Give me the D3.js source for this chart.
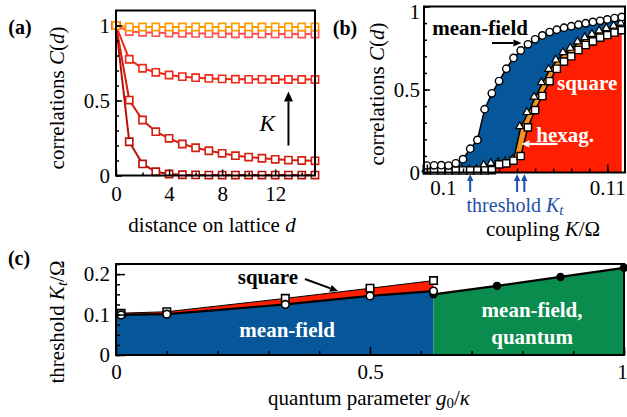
<!DOCTYPE html>
<html>
<head>
<meta charset="utf-8">
<script src="https://cdn.jsdelivr.net/npm/d3@7"></script>
<style>
body { margin: 0; background: #fff; }
text { font-family: "Liberation Serif", "Times New Roman", serif; }
</style>
</head>
<body>
<div id="chart"></div>
<script>
// ---- panel (a): correlations vs distance, several couplings K
const distances = [0, 1, 2, 3, 4, 5, 6, 7, 8, 9, 10, 11, 12, 13, 14, 15];
const corrK1 = [1, 0.225, 0.077, 0.025, 0.01, 0.005, 0.004, 0.003, 0.003, 0.003, 0.003, 0.003, 0.003, 0.003, 0.003, 0.003];
const corrK2 = [1, 0.503, 0.37, 0.292, 0.248, 0.21, 0.185, 0.165, 0.148, 0.132, 0.123, 0.115, 0.108, 0.103, 0.1, 0.098];
const corrK3 = [1, 0.775, 0.715, 0.688, 0.67, 0.659, 0.652, 0.647, 0.644, 0.642, 0.641, 0.641, 0.64, 0.64, 0.64, 0.64];
const corrK4 = [1, 0.96, 0.955, 0.952, 0.95, 0.948, 0.947, 0.946, 0.946, 0.945, 0.945, 0.944, 0.944, 0.944, 0.943, 0.943];
const corrK5 = [1, 0.99, 0.99, 0.99, 0.99, 0.99, 0.99, 0.99, 0.99, 0.99, 0.99, 0.99, 0.99, 0.99, 0.99, 0.99];
const corrColors = ["#b81008", "#d41e10", "#f02818", "#ff5050", "#ff9a00"];

// ---- panel (b): correlations vs coupling K/Omega
const couplingK = [0.1, 0.1004, 0.1008, 0.1012, 0.1016, 0.102, 0.1024, 0.1028, 0.1032, 0.1036,
  0.104, 0.1044, 0.1048, 0.1052, 0.1056, 0.106, 0.1064, 0.1068, 0.1072, 0.1076,
  0.108, 0.1084, 0.1088, 0.1092, 0.1096, 0.11, 0.1104, 0.1108];
const corrMeanField = [0.042, 0.043, 0.044, 0.042, 0.055, 0.08, 0.143, 0.196, 0.381, 0.477,
  0.551, 0.625, 0.69, 0.735, 0.772, 0.802, 0.826, 0.846, 0.86, 0.872,
  0.881, 0.89, 0.899, 0.907, 0.914, 0.922, 0.93, 0.937];
const corrHexag = [0.012, 0.012, 0.012, 0.012, 0.012, 0.012, 0.012, 0.014, 0.04, 0.05,
  0.055, 0.06, 0.075, 0.272, 0.357, 0.45, 0.537, 0.617, 0.673, 0.718,
  0.744, 0.782, 0.808, 0.828, 0.848, 0.863, 0.878, 0.895];
const corrSquare = [0.012, 0.012, 0.012, 0.012, 0.012, 0.012, 0.012, 0.012, 0.012, 0.014,
  0.049, 0.055, 0.071, 0.099, 0.272, 0.376, 0.461, 0.55, 0.625, 0.668,
  0.7, 0.738, 0.768, 0.79, 0.812, 0.828, 0.843, 0.858];
const thresholdsK = [0.1024, 0.105, 0.1054];

// ---- panel (c): threshold vs quantum parameter
const quantumG = [0.01, 0.1, 0.3333, 0.5, 0.625];
const thresholdSquare = [0.103, 0.107, 0.14, 0.165, 0.184];
const thresholdMeanField = [0.099, 0.101, 0.125, 0.146, 0.158];
const quantumGq = [0.625, 0.75, 0.875, 1];
const thresholdQuantum = [0.15, 0.171, 0.193, 0.2156];

const blue = "#05579a", red = "#ff1e00", orange = "#f7931e", green = "#0a8c4e", tblue = "#1f4fa8";
const fs = 21;

const svg = d3.select("#chart").append("svg").attr("width", 627).attr("height", 417);

function frame(x, y) {
    svg.append("rect")
        .attr("x", x.range()[0]).attr("y", y.range()[1])
        .attr("width", x.range()[1] - x.range()[0])
        .attr("height", y.range()[0] - y.range()[1])
        .attr("fill", "none").attr("stroke", "#000").attr("stroke-width", 2);
}

function ticks(axis, tx, ty, values, size, pad, labels) {
    let g = svg.append("g").attr("transform", "translate(" + tx + "," + ty + ")")
        .call(axis.tickValues(values).tickSize(-size).tickPadding(pad)
            .tickFormat(labels ? d3.format("~g") : ""));
    g.select(".domain").remove();
    g.selectAll("line").attr("stroke", "#000").attr("stroke-width", 1.5);
    g.selectAll("text").attr("fill", "#000").style("font-size", fs + "px")
        .style("font-family", '"Liberation Serif", serif');
    return g;
}

function arrow(x1, y1, x2, y2, color, w, head) {
    let a = Math.atan2(y2 - y1, x2 - x1);
    let bx = x2 - head * Math.cos(a), by = y2 - head * Math.sin(a);
    svg.append("line").attr("x1", x1).attr("y1", y1).attr("x2", bx).attr("y2", by)
        .attr("stroke", color).attr("stroke-width", w);
    let px = -Math.sin(a) * head * 0.45, py = Math.cos(a) * head * 0.45;
    svg.append("path")
        .attr("d", "M" + x2 + "," + y2 + "L" + (bx + px) + "," + (by + py) + "L" + (bx - px) + "," + (by - py) + "Z")
        .attr("fill", color);
}

function label(x, y, parts, opts) {
    opts = opts || {};
    let t = svg.append("text")
        .attr("transform", "translate(" + x + "," + y + ")" + (opts.rotate ? " rotate(-90)" : ""))
        .attr("text-anchor", "middle").attr("dominant-baseline", "central")
        .style("font-size", (opts.size || fs) + "px")
        .attr("fill", opts.color || "#000")
        .attr("font-weight", opts.bold ? "bold" : "normal");
    parts.forEach(p => {
        if (typeof p === "string") { t.append("tspan").text(p); return; }
        let s = t.append("tspan").text(p.t);
        if (p.i) s.attr("font-style", "italic");
        if (p.dy) s.attr("dy", p.dy);
        if (p.size) s.style("font-size", p.size + "px");
    });
    return t;
}

// ================= panel (a) =================
const xa = d3.scaleLinear().domain([0, 15]).range([116, 315]);
const ya = d3.scaleLinear().domain([0, 1.1]).range([175.5, 10.5]);
const aSeries = [corrK1, corrK2, corrK3, corrK4, corrK5];

aSeries.forEach((vals, k) => {
    let pts = distances.map((d, i) => [d, vals[i]]);
    svg.append("path").datum(pts)
        .attr("d", d3.line().x(d => xa(d[0])).y(d => ya(d[1])))
        .attr("fill", "none").attr("stroke", corrColors[k]).attr("stroke-width", 2);
    svg.append("g").selectAll("path").data(pts).join("path")
        .attr("transform", d => "translate(" + xa(d[0]) + "," + ya(d[1]) + ")")
        .attr("d", d3.symbol(d3.symbolSquare, 52))
        .attr("fill", "#fff").attr("stroke", corrColors[k]).attr("stroke-width", 1.6);
});
frame(xa, ya);
ticks(d3.axisLeft(ya), 116, 0, d3.range(0, 1.01, 0.1), 3, 6, false);
ticks(d3.axisLeft(ya), 116, 0, [0, 0.5, 1], 6, 6, true);
ticks(d3.axisBottom(xa), 0, 175.5, [2, 6, 10, 14], 3, 11, false);
ticks(d3.axisBottom(xa), 0, 175.5, [0, 4, 8, 12], 6, 11, true);

arrow(xa(13), ya(0.2), xa(13), ya(0.56), "#000", 2, 10);
label(xa(11.4), ya(0.35), [{ t: "K", i: true }], { size: 23 });
label(57, 98, ["correlations ", { t: "C", i: true }, "(", { t: "d", i: true }, ")"], { rotate: true });
label(212, 225, ["distance on lattice ", { t: "d", i: true }]);
label(20, 27, ["(a)"], { bold: true, size: 20 });

// ================= panel (b) =================
const xb = d3.scaleLinear().domain([0.09984, 0.11098]).range([424, 625]);
const yb = d3.scaleLinear().domain([0, 1]).range([172.5, 6.5]);
const bPts = couplingK.map((k, i) => ({ k: k, mf: corrMeanField[i], hx: corrHexag[i], sq: corrSquare[i], i: i }));

svg.append("path").datum(bPts)
    .attr("d", d3.area().defined(d => d.i >= 4).x(d => xb(d.k)).y0(d => yb(d.hx)).y1(d => yb(d.mf)))
    .attr("fill", blue);
svg.append("path").datum(bPts)
    .attr("d", d3.area().defined(d => d.i >= 11).x(d => xb(d.k)).y0(d => yb(d.sq)).y1(d => yb(d.hx)))
    .attr("fill", orange);
svg.append("path").datum(bPts)
    .attr("d", d3.area().defined(d => d.i >= 9).x(d => xb(d.k)).y0(yb(0)).y1(d => yb(d.sq)))
    .attr("fill", red);

["mf", "hx", "sq"].forEach(key => {
    svg.append("path").datum(bPts)
        .attr("d", d3.line().x(d => xb(d.k)).y(d => yb(d[key])))
        .attr("fill", "none").attr("stroke", "#000").attr("stroke-width", 1.5);
});
svg.append("g").selectAll("path").data(bPts).join("path")
    .attr("transform", d => "translate(" + (xb(d.k) - 1) + "," + (yb(d.hx) - 1) + ")")
    .attr("d", d3.symbol(d3.symbolTriangle, 26))
    .attr("fill", "#fff").attr("stroke", "#000").attr("stroke-width", 1.2);
svg.append("g").selectAll("path").data(bPts).join("path")
    .attr("transform", d => "translate(" + xb(d.k) + "," + yb(d.sq) + ")")
    .attr("d", d3.symbol(d3.symbolSquare, 52))
    .attr("fill", "#fff").attr("stroke", "#000").attr("stroke-width", 1.4);
svg.append("g").selectAll("circle").data(bPts).join("circle")
    .attr("cx", d => xb(d.k)).attr("cy", d => yb(d.mf)).attr("r", 3.7)
    .attr("fill", "#fff").attr("stroke", "#000").attr("stroke-width", 1.4);

frame(xb, yb);
ticks(d3.axisLeft(yb), 424, 0, d3.range(0, 1.01, 0.1), 3, 4, false);
let by = ticks(d3.axisLeft(yb), 424, 0, [0, 0.5, 1], 6, 4, true);
by.selectAll("text").filter(d => d === 1).attr("y", 5);
ticks(d3.axisBottom(xb), 0, 172.5, d3.range(0.1, 0.1105, 0.001), 4, 8, false);
let bx = ticks(d3.axisBottom(xb), 0, 172.5, [0.1, 0.11], 8, 8, true);
bx.selectAll("text").filter(d => d === 0.1).attr("dx", 16);

label(xb(0.10295), yb(0.87), ["mean-field"], { bold: true });
arrow(xb(0.10361), yb(0.78), xb(0.10524), yb(0.78), "#000", 2, 8);
label(xb(0.10888), yb(0.54), ["square"], { bold: true, color: "#fff" });
label(xb(0.10766), yb(0.226), ["hexag."], { bold: true, color: "#fff" });
arrow(xb(0.10724), yb(0.172), xb(0.10524), yb(0.172), "#fff", 2.2, 8);

thresholdsK.forEach(k => arrow(xb(k), 192, xb(k), 174, tblue, 2, 7));
label(515, 205, ["threshold ", { t: "K", i: true }, { t: "t", i: true, dy: 5, size: 15 }], { color: tblue, size: 20 });
label(377, 94, ["correlations ", { t: "C", i: true }, "(", { t: "d", i: true }, ")"], { rotate: true });
label(543, 229, ["coupling  ", { t: "K", i: true }, "/Ω"]);
label(345, 28, ["(b)"], { bold: true, size: 20 });

// ================= panel (c) =================
const xc = d3.scaleLinear().domain([0, 1]).range([116, 624]);
const yc = d3.scaleLinear().domain([0, 0.225]).range([355, 264]);
const cPts = quantumG.map((g, i) => ({ g: g, sq: thresholdSquare[i], mf: thresholdMeanField[i], i: i }));
const qPts = quantumGq.map((g, i) => ({ g: g, v: thresholdQuantum[i] }));
const cx = d => d.i === 0 ? xc(0) : xc(d.g);

svg.append("path").datum(cPts)
    .attr("d", d3.area().x(cx).y0(yc(0)).y1(d => yc(d.mf)))
    .attr("fill", blue);
svg.append("path").datum(cPts)
    .attr("d", d3.area().x(cx).y0(d => yc(d.mf)).y1(d => yc(d.sq)))
    .attr("fill", red);
svg.append("path").datum(qPts)
    .attr("d", d3.area().x(d => xc(d.g)).y0(yc(0)).y1(d => yc(d.v)))
    .attr("fill", green);

svg.append("path").datum(cPts)
    .attr("d", d3.line().x(cx).y(d => yc(d.sq)))
    .attr("fill", "none").attr("stroke", "#000").attr("stroke-width", 1);
svg.append("path").datum(cPts)
    .attr("d", d3.line().x(cx).y(d => yc(d.mf)))
    .attr("fill", "none").attr("stroke", "#000").attr("stroke-width", 2.2);
svg.append("path").datum(qPts)
    .attr("d", d3.line().x(d => xc(d.g)).y(d => yc(d.v)))
    .attr("fill", "none").attr("stroke", "#000").attr("stroke-width", 2.2);

svg.append("g").selectAll("circle").data(qPts).join("circle")
    .attr("cx", d => xc(d.g)).attr("cy", d => yc(d.v)).attr("r", 4.2).attr("fill", "#000");
svg.append("g").selectAll("path").data(cPts).join("path")
    .attr("transform", d => "translate(" + xc(d.g) + "," + yc(d.sq) + ")")
    .attr("d", d3.symbol(d3.symbolSquare, 56))
    .attr("fill", "#fff").attr("stroke", "#000").attr("stroke-width", 1.6);
svg.append("g").selectAll("circle").data(cPts).join("circle")
    .attr("cx", d => xc(d.g)).attr("cy", d => yc(d.mf)).attr("r", 3.8)
    .attr("fill", "#fff").attr("stroke", "#000").attr("stroke-width", 1.6);

frame(xc, yc);
ticks(d3.axisLeft(yc), 116, 0, d3.range(0, 0.226, 0.025), 4, 6, false);
ticks(d3.axisLeft(yc), 116, 0, [0, 0.1, 0.2], 9, 6, true);
ticks(d3.axisBottom(xc), 0, 355, d3.range(0, 1.01, 0.1), 4, 9, false);
let cxAxis = ticks(d3.axisBottom(xc), 0, 355, [0, 0.5, 1], 8, 9, true);
cxAxis.selectAll("text").filter(d => d === 1).attr("dx", -2);

label(xc(0.299), yc(0.193), ["square"], { bold: true });
arrow(xc(0.372), yc(0.188), xc(0.437), yc(0.158), "#000", 2, 8);
label(xc(0.337), yc(0.062), ["mean-field"], { bold: true, color: "#fff" });
label(xc(0.819), yc(0.111), ["mean-field,"], { bold: true, color: "#fff" });
label(xc(0.819), yc(0.0445), ["quantum"], { bold: true, color: "#fff" });

label(57, 322, ["threshold  ", { t: "K", i: true }, { t: "t", i: true, dy: 5, size: 15 }, { t: "/Ω", dy: -5 }], { rotate: true });
label(369, 398, ["quantum parameter ", { t: "g", i: true }, { t: "0", dy: 5, size: 15 }, { t: "/", dy: -5 }, { t: "κ", i: true }]);
label(19, 258, ["(c)"], { bold: true, size: 20 });
</script>
</body>
</html>
